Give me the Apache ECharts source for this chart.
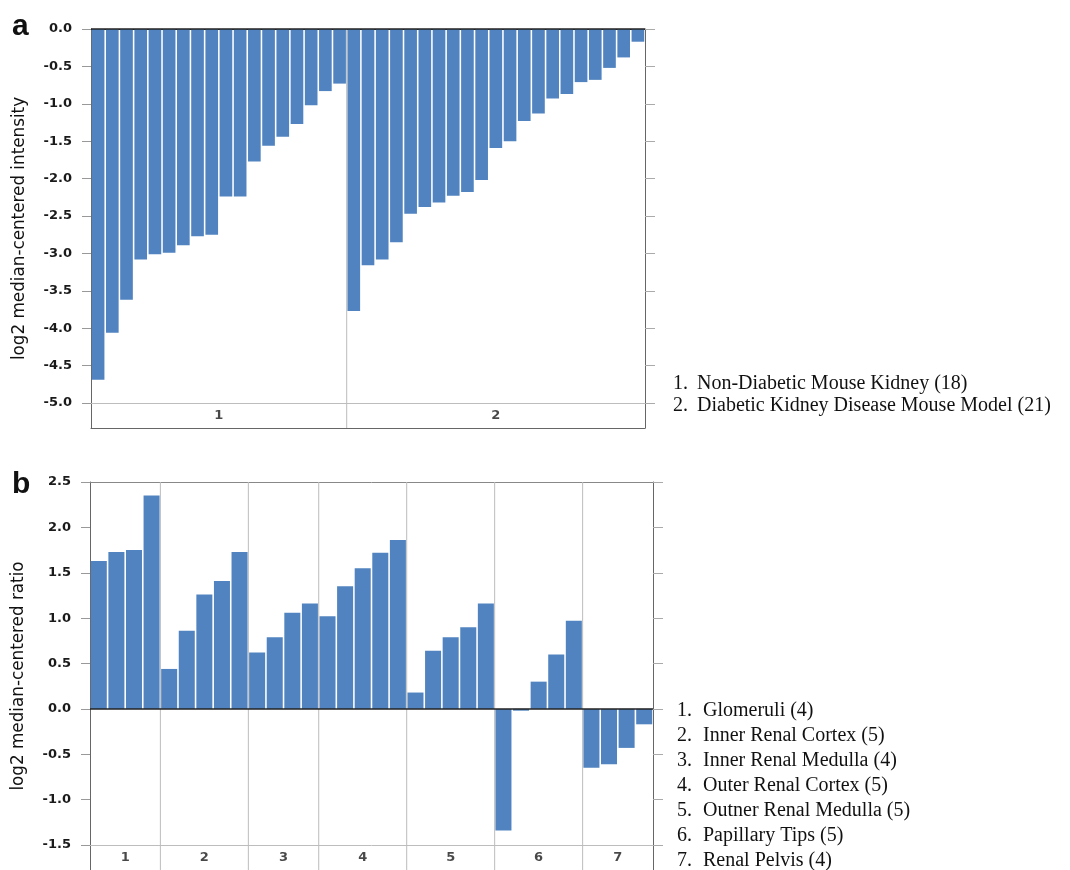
<!DOCTYPE html>
<html>
<head>
<meta charset="utf-8">
<script src="https://cdn.jsdelivr.net/npm/echarts@6/dist/echarts.min.js"></script>
<style>
  html, body { margin: 0; background: #fff; }
  #chart { width: 1070px; height: 870px; }
</style>
</head>
<body>
<div id="chart"></div>
<script>
// panel a: log2 median-centered intensity, one array per group
const namesA = ['Non-Diabetic Mouse Kidney', 'Diabetic Kidney Disease Mouse Model'];
const nonDiabetic = [-4.69, -4.06, -3.62, -3.08, -3.01, -2.99, -2.89, -2.77, -2.75,
  -2.24, -2.24, -1.77, -1.56, -1.44, -1.27, -1.02, -0.83, -0.73];
const diabeticModel = [-3.77, -3.16, -3.08, -2.85, -2.47, -2.38, -2.32, -2.23, -2.18,
  -2.02, -1.59, -1.50, -1.23, -1.13, -0.93, -0.87, -0.71, -0.68, -0.52, -0.38, -0.17];

// panel b: log2 median-centered ratio
const namesB = ['Glomeruli', 'Inner Renal Cortex', 'Inner Renal Medulla', 'Outer Renal Cortex',
  'Outner Renal Medulla', 'Papillary Tips', 'Renal Pelvis'];
const glomeruli = [1.63, 1.73, 1.75, 2.35];
const innerCortex = [0.44, 0.86, 1.26, 1.41, 1.73];
const innerMedulla = [0.62, 0.79, 1.06, 1.16];
const outerCortex = [1.02, 1.35, 1.55, 1.72, 1.86];
const outerMedulla = [0.18, 0.64, 0.79, 0.90, 1.16];
const papillaryTips = [-1.34, -0.02, 0.30, 0.60, 0.97];
const renalPelvis = [-0.65, -0.61, -0.43, -0.17];

const BAR = '#5083bf';
const FONT = 'DejaVu Sans';

const option = {
  backgroundColor: '#ffffff',
  animation: false,
  title: [],
  grid: [],
  xAxis: [],
  yAxis: [],
  series: []
};

function dividerItem(lo, hi) {
  return function (params, api) {
    const x = api.value(0);
    const p1 = api.coord([x, hi]);
    const p2 = api.coord([x, lo]);
    return {
      type: 'line',
      shape: { x1: p1[0], y1: p1[1], x2: p2[0], y2: p2[1] },
      style: { stroke: '#bcbcbc', lineWidth: 1 }
    };
  };
}

function plainAxis(extra) {
  return Object.assign({
    axisTick: { show: false },
    axisLabel: { show: false },
    splitLine: { show: false }
  }, extra);
}

function addPanel(p) {
  const g = option.grid.length;
  const xi = option.xAxis.length;
  const yi = option.yAxis.length;
  const values = [].concat(...p.groups);
  const n = values.length;

  const bounds = [];
  const centers = [];
  let acc = 0;
  p.groups.forEach((grp, i) => {
    centers.push({ value: [acc + grp.length / 2, 0.5], name: String(i + 1) });
    acc += grp.length;
    if (i < p.groups.length - 1) bounds.push([acc, 0]);
  });

  option.grid.push({ left: p.left, top: p.top, width: p.width, height: p.height });
  option.grid.push({ left: p.left, top: p.top + p.height, width: p.width, height: p.strip });

  option.xAxis.push(
    plainAxis({ type: 'category', gridIndex: g, data: values.map((v, i) => i), position: 'bottom',
      axisLine: { onZero: false, lineStyle: { color: '#bdbdbd' } } }),
    plainAxis({ type: 'value', gridIndex: g, min: 0, max: n, position: 'top',
      axisLine: { show: true, onZero: false, lineStyle: { color: p.topColor } } }),
    plainAxis({ type: 'value', gridIndex: g + 1, min: 0, max: n, position: 'bottom',
      axisLine: { show: true, onZero: false, lineStyle: { color: '#666' } } })
  );

  option.yAxis.push(
    {
      type: 'value', gridIndex: g, min: p.min, max: p.max, interval: 0.5, position: 'left',
      name: p.name, nameLocation: 'middle', nameGap: 63,
      nameTextStyle: { fontFamily: FONT, fontSize: 16.8, color: '#111', padding: [0, 25, 0, 0] },
      axisLine: { show: true, onZero: false, lineStyle: { color: '#666' } },
      axisTick: { show: true, length: 9, lineStyle: { color: '#999' } },
      axisLabel: { margin: 19, fontFamily: FONT, fontSize: 13, fontWeight: 'bold', color: '#1a1a1a',
        formatter: v => v.toFixed(1) },
      splitLine: { show: false }
    },
    plainAxis({ type: 'value', gridIndex: g, min: p.min, max: p.max, interval: 0.5, position: 'right',
      axisLine: { show: true, onZero: false, lineStyle: { color: '#666' } },
      axisTick: { show: true, length: 10, lineStyle: { color: '#aaa' } } }),
    plainAxis({ type: 'value', gridIndex: g + 1, min: 0, max: 1, position: 'left',
      axisLine: { show: true, onZero: false, lineStyle: { color: '#666' } } }),
    plainAxis({ type: 'value', gridIndex: g + 1, min: 0, max: 1, position: 'right',
      axisLine: { show: true, onZero: false, lineStyle: { color: '#666' } } })
  );

  option.series.push(
    {
      type: 'custom', xAxisIndex: xi + 1, yAxisIndex: yi, z: 1, silent: true,
      data: bounds, renderItem: dividerItem(p.min, p.max)
    },
    {
      type: 'bar', xAxisIndex: xi, yAxisIndex: yi, z: 2, data: values,
      barCategoryGap: p.gap,
      itemStyle: { color: BAR },
      markLine: {
        silent: true, symbol: 'none', label: { show: false },
        lineStyle: { color: '#222', width: 1.5, type: 'solid' },
        data: [{ yAxis: 0 }]
      }
    },
    {
      type: 'custom', xAxisIndex: xi + 2, yAxisIndex: yi + 2, z: 1, silent: true,
      data: bounds, renderItem: dividerItem(0, 1)
    },
    {
      type: 'scatter', xAxisIndex: xi + 2, yAxisIndex: yi + 2, silent: true,
      symbolSize: 1, itemStyle: { color: 'rgba(0,0,0,0)' },
      data: centers,
      label: { show: true, position: 'inside', formatter: '{b}',
        fontFamily: FONT, fontSize: 13, fontWeight: 'bold', color: '#1a1a1a' }
    }
  );

  option.title.push(
    { text: p.letter, left: 12, top: p.letterTop, padding: 0,
      textStyle: { fontFamily: 'Liberation Sans', fontWeight: 'bold', fontSize: 30, color: '#111' } },
    {
      text: p.labels.map((name, i) =>
        '{n|' + (i + 1) + '.}' + name + ' (' + p.groups[i].length + ')').join('\n'),
      left: p.legendLeft, top: p.legendTop, padding: 0,
      textStyle: {
        fontFamily: 'Liberation Serif', fontSize: 20, fontWeight: 'normal',
        lineHeight: p.legendLine, color: '#111',
        rich: { n: { width: p.numWidth, fontFamily: 'Liberation Serif', fontSize: 20,
          lineHeight: p.legendLine, color: '#111' } }
      }
    }
  );
}

addPanel({
  letter: 'a', letterTop: 12,
  groups: [nonDiabetic, diabeticModel], labels: namesA,
  name: 'log2 median-centered intensity',
  min: -5, max: 0, topColor: '#333',
  left: 91, top: 29, width: 554, height: 374, strip: 25, gap: '11%',
  legendLeft: 673, legendTop: 373, legendLine: 22, numWidth: 24
});

addPanel({
  letter: 'b', letterTop: 470,
  groups: [glomeruli, innerCortex, innerMedulla, outerCortex, outerMedulla, papillaryTips, renalPelvis],
  labels: namesB,
  name: 'log2 median-centered ratio',
  min: -1.5, max: 2.5, topColor: '#888',
  left: 90, top: 482, width: 563, height: 363, strip: 30, gap: '9%',
  legendLeft: 677, legendTop: 698, legendLine: 25, numWidth: 26
});

const chart = echarts.init(document.getElementById('chart'));
chart.setOption(option);
</script>
</body>
</html>
